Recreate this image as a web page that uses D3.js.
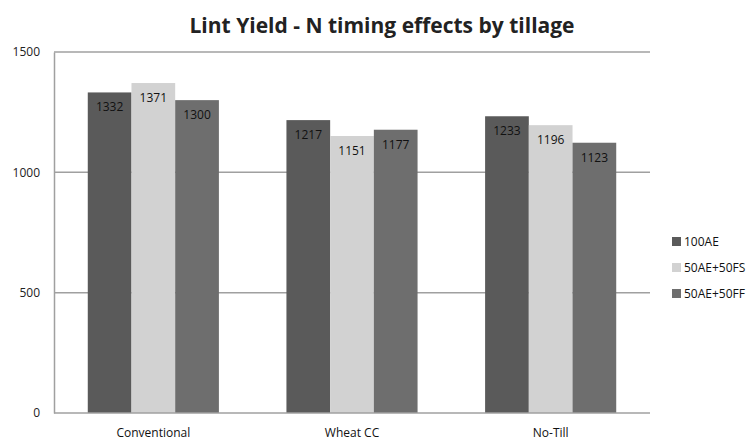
<!DOCTYPE html>
<html>
<head>
<meta charset="utf-8">
<script src="https://cdn.jsdelivr.net/npm/d3@7"></script>
<style>
  body { margin: 0; background: #fff; }
  svg text { font-family: "Open Sans", "Liberation Sans", sans-serif; }
</style>
</head>
<body>
<div class="chart"></div>
<script>
const categories = ["Conventional", "Wheat CC", "No-Till"]
const seriesNames = ["100AE", "50AE+50FS", "50AE+50FF"]
const ae100 = [1332, 1217, 1233]
const fs50 = [1371, 1151, 1196]
const ff50 = [1300, 1177, 1123]
const yTicks = [0, 500, 1000, 1500]
const colors = ["#5a5a5a", "#d2d2d2", "#6e6e6e"]

let width = 755, height = 445
let margin = { left: 54, right: 105, top: 52, bottom: 32 }
let svg = d3.select(".chart").append("svg")
    .attr("width", width)
    .attr("height", height)

let series = [ae100, fs50, ff50]

let x = d3.scaleBand()
    .domain(categories)
    .range([margin.left, width - margin.right])
    .paddingInner(0.34)
    .paddingOuter(0.17)
let xs = d3.scaleBand()
    .domain(seriesNames)
    .range([0, x.bandwidth()])
let y = d3.scaleLinear()
    .domain([0, 1500])
    .range([height - margin.bottom, margin.top])

// gridlines
svg.append("g")
    .selectAll("line")
    .data(yTicks.filter(d => d > 0))
    .enter()
    .append("line")
    .attr("x1", margin.left)
    .attr("x2", width - margin.right)
    .attr("y1", d => y(d))
    .attr("y2", d => y(d))
    .attr("stroke", "#a0a0a0")
    .attr("stroke-width", 1.5)

// y axis
let yAxis = svg.append("g")
    .attr("transform", `translate(${margin.left},0)`)
    .call(d3.axisLeft(y).tickValues(yTicks).tickFormat(d3.format("d")).tickSize(0).tickPadding(14))
yAxis.select(".domain").attr("stroke", "#a0a0a0").attr("stroke-width", 1.5)
yAxis.selectAll("text").attr("font-size", 12).attr("fill", "#222")

// bars
let groups = svg.append("g")
    .selectAll("g")
    .data(categories)
    .enter()
    .append("g")
    .attr("transform", d => `translate(${x(d)},0)`)

groups.selectAll("rect")
    .data((d, i) => series.map((s, k) => ({ name: seriesNames[k], value: s[i], color: colors[k] })))
    .enter()
    .append("rect")
    .attr("x", d => xs(d.name))
    .attr("y", d => y(d.value))
    .attr("width", xs.bandwidth())
    .attr("height", d => y(0) - y(d.value))
    .attr("fill", d => d.color)

groups.selectAll("text")
    .data((d, i) => series.map((s, k) => ({ name: seriesNames[k], value: s[i] })))
    .enter()
    .append("text")
    .attr("x", d => xs(d.name) + xs.bandwidth() / 2)
    .attr("y", d => y(d.value) + 19)
    .attr("text-anchor", "middle")
    .attr("font-size", 12)
    .attr("fill", "#111")
    .text(d => d.value)

// x axis
let xAxis = svg.append("g")
    .attr("transform", `translate(0,${y(0)})`)
    .call(d3.axisBottom(x).tickSize(0).tickPadding(15))
xAxis.select(".domain").attr("stroke", "#a0a0a0").attr("stroke-width", 1.5)
    .attr("d", `M${margin.left},0H${width - margin.right}`)
xAxis.selectAll("text").attr("font-size", 12).attr("fill", "#111")

// title
svg.append("text")
    .attr("x", 382)
    .attr("y", 33)
    .attr("text-anchor", "middle")
    .attr("font-size", 21)
    .attr("font-weight", "bold")
    .attr("fill", "#222")
    .text("Lint Yield - N timing effects by tillage")

// legend
let legend = svg.append("g")
    .attr("transform", "translate(672,242)")
seriesNames.forEach((name, i) => {
    legend.append("rect")
        .attr("x", 0)
        .attr("y", i * 26 - 5)
        .attr("width", 9)
        .attr("height", 9)
        .attr("fill", colors[i])
    legend.append("text")
        .attr("x", 12)
        .attr("y", i * 26 + 4)
        .attr("font-size", 12)
        .attr("fill", "#111")
        .text(name)
})
</script>
</body>
</html>
